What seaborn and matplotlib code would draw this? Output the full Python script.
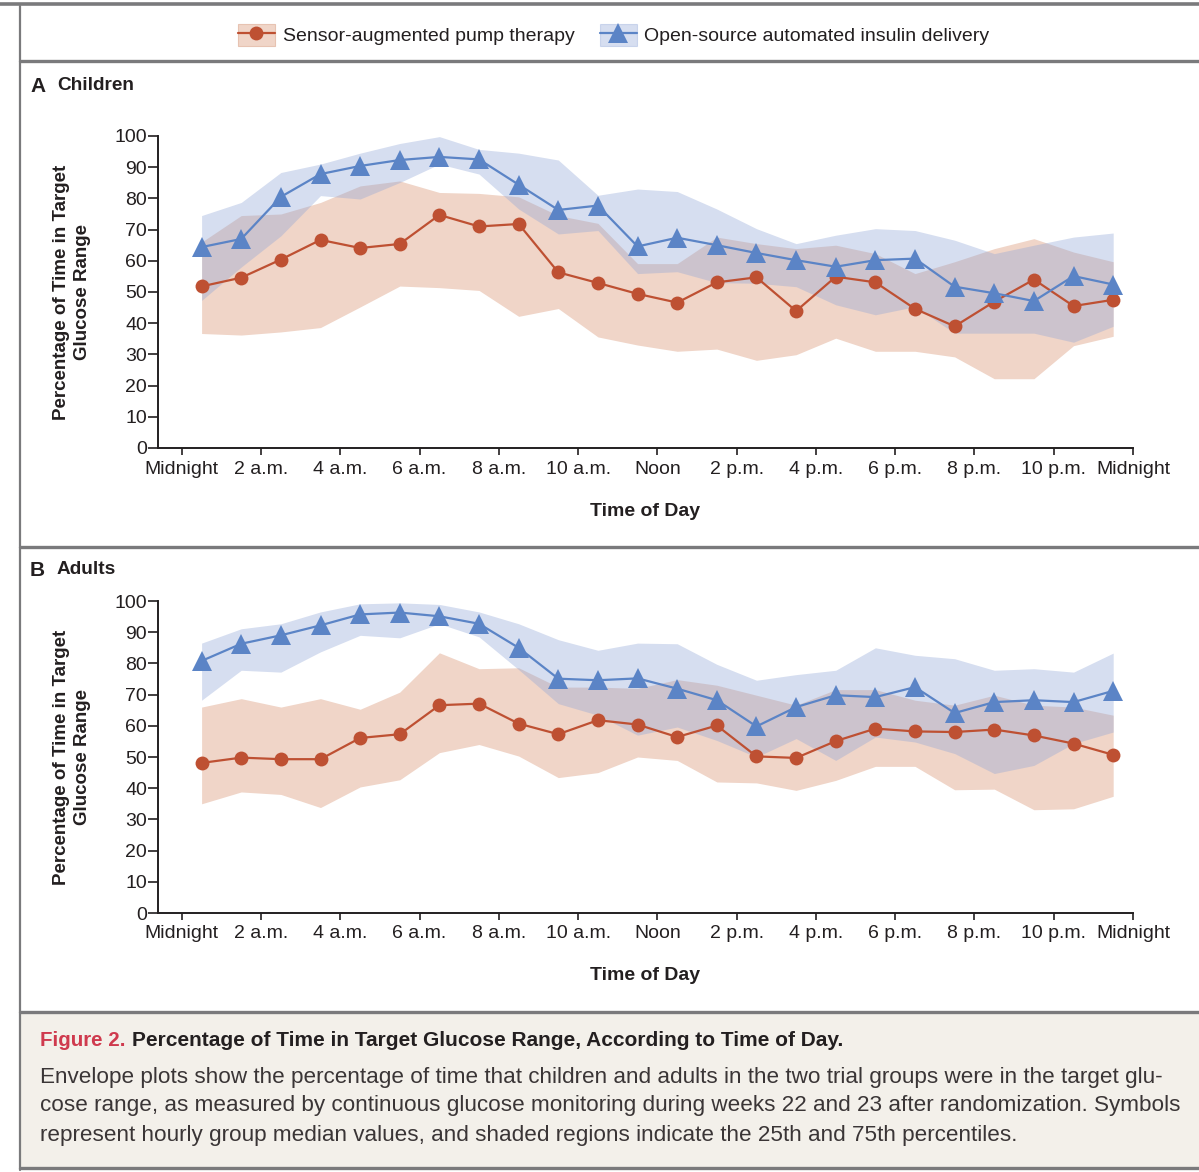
import matplotlib
matplotlib.use("Agg")
import matplotlib.pyplot as plt
from matplotlib.lines import Line2D
from matplotlib.patches import Patch, Rectangle
from matplotlib.legend_handler import HandlerTuple
import pandas as pd
import seaborn as sns

# ---------------------------------------------------------------- data
hours = [0.5, 1.5, 2.5, 3.5, 4.5, 5.5, 6.5, 7.5, 8.5, 9.5, 10.5, 11.5,
         12.5, 13.5, 14.5, 15.5, 16.5, 17.5, 18.5, 19.5, 20.5, 21.5, 22.5, 23.5]
tick_hours = [0, 2, 4, 6, 8, 10, 12, 14, 16, 18, 20, 22, 24]
tick_labels = ["Midnight", "2 a.m.", "4 a.m.", "6 a.m.", "8 a.m.", "10 a.m.", "Noon",
               "2 p.m.", "4 p.m.", "6 p.m.", "8 p.m.", "10 p.m.", "Midnight"]
y_ticks = [0, 10, 20, 30, 40, 50, 60, 70, 80, 90, 100]
groups = ["Sensor-augmented pump therapy", "Open-source automated insulin delivery"]

# Children: hourly medians and 25th / 75th percentiles
children_sap_median = [51.8, 54.6, 60.4, 66.7, 64.1, 65.4, 74.7, 71.0, 71.8, 56.3, 52.9, 49.4,
                       46.6, 53.1, 54.7, 43.9, 54.9, 53.1, 44.6, 39.0, 46.9, 54.0, 45.5, 47.5]
children_sap_q1 = [36.7, 36.2, 37.2, 38.6, 45.2, 51.9, 51.4, 50.5, 42.2, 44.7, 35.6, 33.0,
                   31.0, 31.7, 28.1, 29.9, 35.2, 31.0, 31.0, 29.2, 22.2, 22.2, 32.8, 35.8]
children_sap_q3 = [66.0, 74.5, 75.0, 78.7, 84.0, 85.6, 81.9, 81.6, 80.5, 74.5, 72.0, 59.1,
                   59.1, 67.6, 65.5, 63.9, 65.0, 62.3, 55.9, 59.7, 63.9, 67.1, 62.8, 59.7]
children_oa_median = [64.4, 67.0, 80.5, 87.8, 90.4, 92.3, 93.3, 92.5, 84.4, 76.3, 77.7, 64.6,
                      67.4, 65.0, 62.5, 60.2, 58.1, 60.2, 60.7, 51.7, 49.6, 47.1, 55.1, 52.4]
children_oa_q1 = [47.3, 58.0, 68.0, 80.9, 79.8, 85.1, 91.0, 87.8, 76.6, 68.6, 69.7, 55.9,
                  56.5, 53.0, 52.8, 51.7, 45.9, 42.7, 45.3, 36.8, 36.8, 36.8, 33.9, 39.0]
children_oa_q3 = [74.5, 78.7, 88.3, 91.0, 94.5, 97.6, 99.8, 95.7, 94.5, 92.3, 81.0, 83.0,
                  82.2, 76.6, 70.3, 65.5, 68.2, 70.3, 69.7, 66.6, 62.3, 65.0, 67.6, 68.9]

# Adults: hourly medians and 25th / 75th percentiles
adults_sap_median = [48.1, 49.8, 49.3, 49.3, 56.1, 57.3, 66.6, 67.1, 60.7, 57.3, 61.8, 60.4,
                     56.4, 60.1, 50.2, 49.7, 55.1, 59.1, 58.2, 58.0, 58.8, 56.9, 54.3, 50.7]
adults_sap_q1 = [35.0, 38.8, 38.0, 33.8, 40.4, 42.7, 51.4, 54.0, 50.3, 43.4, 45.0, 50.0,
                 48.9, 42.0, 41.7, 39.3, 42.5, 47.0, 47.0, 39.5, 39.7, 33.1, 33.4, 37.4]
adults_sap_q3 = [66.0, 68.7, 66.0, 68.7, 65.3, 70.8, 83.4, 78.3, 78.6, 72.4, 72.4, 72.0,
                 74.8, 73.0, 69.8, 66.6, 71.6, 71.6, 68.2, 66.6, 69.8, 66.6, 66.0, 63.4]
adults_oa_median = [80.8, 86.3, 89.0, 92.2, 95.7, 96.3, 95.1, 92.7, 85.0, 75.1, 74.6, 75.2,
                    71.9, 68.2, 59.8, 66.0, 69.8, 69.2, 72.4, 64.1, 67.6, 68.2, 67.6, 71.2]
adults_oa_q1 = [68.2, 77.8, 77.2, 83.7, 89.0, 88.2, 92.7, 88.5, 78.0, 67.1, 63.4, 57.0,
                59.6, 55.3, 50.0, 55.9, 48.9, 56.4, 54.8, 51.1, 44.7, 47.3, 54.3, 58.0]
adults_oa_q3 = [86.5, 91.1, 92.7, 96.5, 99.1, 99.4, 98.9, 96.5, 92.7, 87.6, 84.2, 86.5,
                86.3, 79.7, 74.6, 76.4, 77.8, 85.0, 82.6, 81.5, 77.8, 78.3, 77.2, 83.3]

# ---------------------------------------------------------------- style
sns.set_style("ticks")
plt.rcParams["font.family"] = ["Liberation Sans", "DejaVu Sans"]

INK = "#231f20"
FRAME = "#7a7a7c"
RED = "#be5032"
BLUE = "#5b84c6"
RED_BAND = "#f0d5c8"
BLUE_BAND = "#90a6d7"
BLUE_ALPHA = 0.37
CAPTION_BG = "#f3f0ea"
CAPTION_RED = "#cf3a4e"

W, H = 1199, 1172
fig = plt.figure(figsize=(W / 100, H / 100), dpi=100)
fig.patch.set_facecolor("white")


def fx(px):
    return px / W


def fy(py):
    return 1 - py / H


def frame_table(sap_med, sap_lo, sap_hi, oa_med, oa_lo, oa_hi):
    rows = []
    for g, med, lo, hi in ((groups[0], sap_med, sap_lo, sap_hi),
                           (groups[1], oa_med, oa_lo, oa_hi)):
        rows.append(pd.DataFrame({"hour": hours, "median": med, "q1": lo, "q3": hi, "group": g}))
    return pd.concat(rows, ignore_index=True)


def draw_panel(ax, df):
    sap = df[df["group"] == groups[0]]
    oa = df[df["group"] == groups[1]]
    ax.fill_between(sap["hour"], sap["q1"], sap["q3"], color=RED_BAND, lw=0, zorder=1)
    ax.fill_between(oa["hour"], oa["q1"], oa["q3"], color=BLUE_BAND, alpha=BLUE_ALPHA,
                    lw=0, zorder=2)
    sns.lineplot(data=sap, x="hour", y="median", color=RED, marker="o", markersize=10,
                 markeredgewidth=0, linewidth=1.6, legend=False, ax=ax, zorder=3)
    sns.lineplot(data=oa, x="hour", y="median", color=BLUE, marker="^", markersize=14,
                 markeredgewidth=0, linewidth=1.6, legend=False, ax=ax, zorder=4)

    ax.set_xlim(-0.6, 24)
    ax.set_ylim(0, 100)
    ax.set_xticks(tick_hours)
    ax.set_xticklabels(tick_labels)
    ax.set_yticks(y_ticks)
    sns.despine(ax=ax)
    for side in ("left", "bottom"):
        ax.spines[side].set_color(INK)
        ax.spines[side].set_linewidth(1.4)
    ax.tick_params(axis="x", direction="out", length=5, width=1.2, pad=4,
                   labelsize=14, colors=INK)
    ax.tick_params(axis="y", direction="out", length=7, width=1.2, pad=1,
                   labelsize=14, colors=INK)
    ax.set_facecolor("none")

    ax.set_xlabel("Time of Day", fontsize=14, fontweight="bold", color=INK)
    ax.xaxis.set_label_coords(0.5, -63 / 312)
    ax.xaxis.label.set_va("center")
    ax.set_ylabel("Percentage of Time in Target\nGlucose Range", fontsize=13.5,
                  fontweight="bold", color=INK, linespacing=1.3)
    ax.yaxis.set_label_coords((72 - 158) / 975, 0.5)
    ax.yaxis.label.set_va("center")


# ---------------------------------------------------------------- frame
fig.add_artist(Rectangle((fx(21), fy(1167)), fx(1199) - fx(21), fy(1014) - fy(1167),
                         transform=fig.transFigure, facecolor=CAPTION_BG, edgecolor="none",
                         zorder=0))
fig.add_artist(Line2D([0, 1], [fy(3.5), fy(3.5)], transform=fig.transFigure,
                      color=FRAME, lw=2.6))
fig.add_artist(Line2D([fx(20), fx(20)], [fy(6), fy(1170)], transform=fig.transFigure,
                      color=FRAME, lw=1.6))
for yy in (61, 547, 1012, 1168):
    fig.add_artist(Line2D([fx(20), 1], [fy(yy), fy(yy)], transform=fig.transFigure,
                          color=FRAME, lw=2.4))

# ---------------------------------------------------------------- panels
ax_a = fig.add_axes([fx(158), fy(448), fx(1133) - fx(158), fy(136) - fy(448)])
draw_panel(ax_a, frame_table(children_sap_median, children_sap_q1, children_sap_q3,
                             children_oa_median, children_oa_q1, children_oa_q3))
ax_b = fig.add_axes([fx(158), fy(913), fx(1133) - fx(158), fy(601) - fy(913)])
draw_panel(ax_b, frame_table(adults_sap_median, adults_sap_q1, adults_sap_q3,
                             adults_oa_median, adults_oa_q1, adults_oa_q3))

for letter, name, yy in (("A", "Children", 86), ("B", "Adults", 570)):
    fig.text(fx(30), fy(yy), letter, fontsize=15, fontweight="bold", color=INK, va="center")
    fig.text(fx(57), fy(yy), name, fontsize=13.7, fontweight="bold", color=INK, va="center")

# ---------------------------------------------------------------- legend
handles = [
    (Patch(facecolor=RED_BAND, edgecolor="#e7c3b2", linewidth=0.8),
     Line2D([], [], color=RED, marker="o", markersize=10, markeredgewidth=0, lw=1.6)),
    (Patch(facecolor=BLUE_BAND, alpha=BLUE_ALPHA, edgecolor=BLUE_BAND, linewidth=0.8),
     Line2D([], [], color=BLUE, marker="^", markersize=14, markeredgewidth=0, lw=1.6)),
]
fig.legend(handles=handles, labels=groups, handler_map={tuple: HandlerTuple(ndivide=1)},
           loc="center", bbox_to_anchor=(fx(614), fy(35)), ncol=2, frameon=False,
           fontsize=14, handlelength=1.86, handleheight=1.4, handletextpad=0.41,
           columnspacing=1.34, labelcolor=INK)

# ---------------------------------------------------------------- caption
fig.canvas.draw()
renderer = fig.canvas.get_renderer()
fig_head = fig.text(fx(40), fy(1041), "Figure 2.", fontsize=14.8, fontweight="bold",
                    color=CAPTION_RED, va="center")
head_box = fig_head.get_window_extent(renderer=renderer)
fig.text(head_box.x1 / W + fx(6), fy(1041),
         "Percentage of Time in Target Glucose Range, According to Time of Day.",
         fontsize=15, fontweight="bold", color=INK, va="center")
caption_lines = [
    "Envelope plots show the percentage of time that children and adults in the two trial groups were in the target glu-",
    "cose range, as measured by continuous glucose monitoring during weeks 22 and 23 after randomization. Symbols",
    "represent hourly group median values, and shaded regions indicate the 25th and 75th percentiles.",
]
for line, yy in zip(caption_lines, (1077, 1106, 1135)):
    fig.text(fx(40), fy(yy), line, fontsize=16.2, color="#3a3536", va="center")

fig.savefig("out.png", dpi=100, facecolor=fig.get_facecolor())
